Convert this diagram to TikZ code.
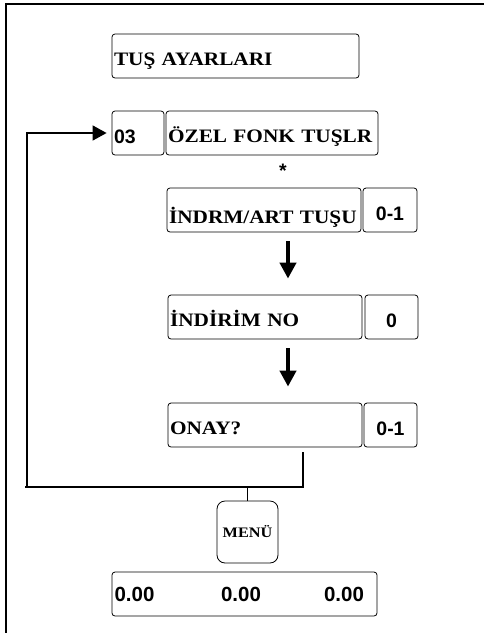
\documentclass[tikz,border=0pt]{standalone}
\usepackage{fontspec}
\setmainfont{Liberation Serif}
\newfontfamily\labelfont{Liberation Serif}[FakeStretch=1.12]
\newfontfamily\digitfont{Liberation Sans}
\usetikzlibrary{arrows.meta}

\tikzset{
    keybox/.style={draw, rounded corners=3pt, line width=0.8pt, minimum height=44pt,
        inner xsep=2pt, inner ysep=0pt},
    serifb/.style={font=\labelfont\bfseries\fontsize{19}{20}\selectfont,
        text height=18pt, text depth=0pt},
    sansb/.style={font=\digitfont\bfseries\fontsize{19.5}{20}\selectfont,
        text height=21pt, text depth=0pt},
    labelbox/.style={keybox, serifb, align=left, text width=#1},
    valbox/.style={keybox, sansb, minimum width=#1},
    bigarrow/.style={line width=4pt, shorten <=9pt, shorten >=16pt,
        -{Triangle[length=16pt,width=16pt]}},
    link/.style={line width=1.5pt}
}

\begin{document}
\begin{tikzpicture}[x=1pt, y=-1pt]

    \useasboundingbox (0,0) rectangle (484,633);

    % Outer frame (cut at right and bottom)
    \draw[line width=2pt] (6,633) -- (6,4) -- (484,4);

    % Menu title
    \node[labelbox=243pt] (title) at (235.5,56) {TUŞ AYARLARI};

    % Function row
    \node[keybox, sansb, align=left, text width=48pt] (num03) at (138,133) {03};
    \node[labelbox=208pt] (ozel) at (272,133) {ÖZEL FONK TUŞLR};
    \node[sansb, inner sep=0pt, text height=0pt] (star) at (283,177) {*};

    % Settings
    \node[labelbox=190pt, text height=26pt] (indrm) at (264,210) {İNDRM/ART TUŞU};
    \node[valbox=54pt] (indrmval) at (390,210) {0-1};

    \node[labelbox=190pt] (indirim) at (265,317) {İNDİRİM NO};
    \node[valbox=53pt] (indirimval) at (391.5,317) {0};

    \node[labelbox=190pt] (onay) at (265,425) {ONAY?};
    \node[valbox=53pt] (onayval) at (390.5,425) {0-1};

    \draw[bigarrow] ([xshift=24pt]indrm.south) -- ([xshift=23pt]indirim.north);
    \draw[bigarrow] ([xshift=23pt]indirim.south) -- ([xshift=23pt]onay.north);

    % Loop back and menu key
    \coordinate (turn) at (27,487);
    \draw[link, -{Triangle[length=14pt,width=15pt]}]
        ([xshift=38pt,yshift=-5pt]onay.south) |- (turn) |- ([xshift=-5pt]num03.west);
    \draw[link] (turn) -- ++(-2,0);

    \node[draw, rounded corners=8pt, line width=0.8pt, minimum width=61pt, minimum height=62pt,
        font=\labelfont\bfseries\fontsize{14.5}{15}\selectfont] (menu) at (247.5,532) {MENÜ};
    \draw[link] (menu.north) -- (menu.north |- turn);

    % Display
    \node[keybox, minimum width=265pt] (display) at (244.5,594) {};
    \foreach \name/\dx in {dleft/-110, dmid/-3.5, dright/99.5} {
        \node[font=\digitfont\bfseries\fontsize{20.5}{21}\selectfont, inner sep=0pt,
            text height=14pt, text depth=0pt] (\name) at ([xshift=\dx pt]display.center) {0.00};
    }

\end{tikzpicture}
\end{document}
